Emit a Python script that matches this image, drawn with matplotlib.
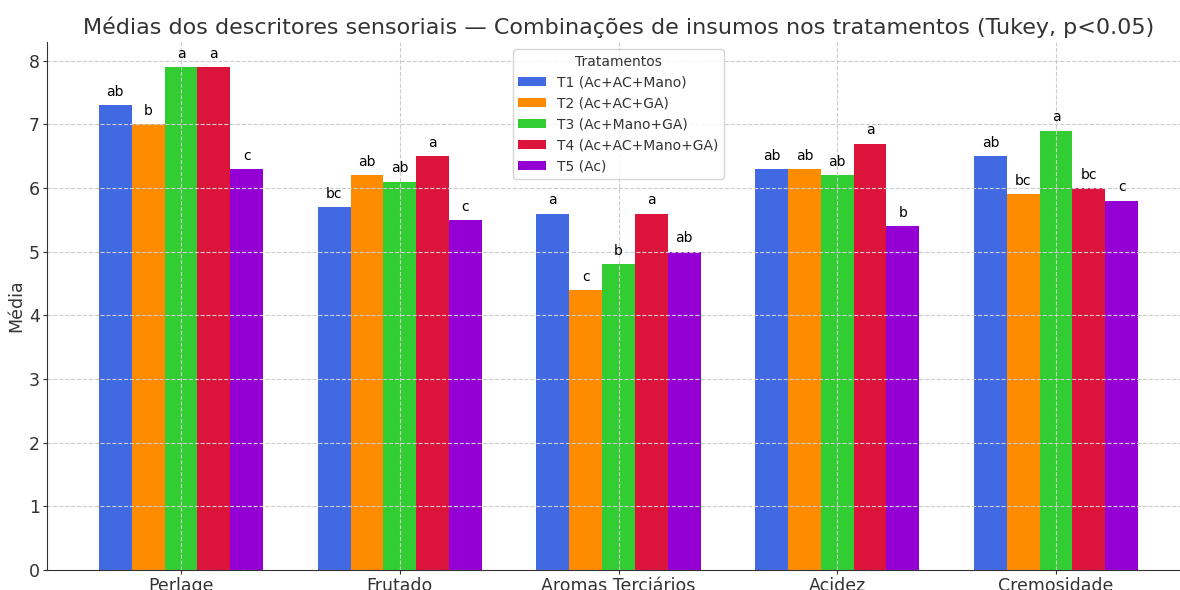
import matplotlib

matplotlib.use("Agg")
import matplotlib.pyplot as plt
import numpy as np

descritores = ["Perlage", "Frutado", "Aromas Terciários", "Acidez", "Cremosidade"]
tratamentos = [
    "T1 (Ac+AC+Mano)",
    "T2 (Ac+AC+GA)",
    "T3 (Ac+Mano+GA)",
    "T4 (Ac+AC+Mano+GA)",
    "T5 (Ac)",
]
medias = [
    [7.3, 5.7, 5.6, 6.3, 6.5],  # T1
    [7.0, 6.2, 4.4, 6.3, 5.9],  # T2
    [7.9, 6.1, 4.8, 6.2, 6.9],  # T3
    [7.9, 6.5, 5.6, 6.7, 6.0],  # T4
    [6.3, 5.5, 5.0, 5.4, 5.8],  # T5
]
letras = [
    ["ab", "bc", "a", "ab", "ab"],
    ["b", "ab", "c", "ab", "bc"],
    ["a", "ab", "b", "ab", "a"],
    ["a", "a", "a", "a", "bc"],
    ["c", "c", "ab", "b", "c"],
]
cores = ["royalblue", "darkorange", "limegreen", "crimson", "darkviolet"]

plt.rcParams["text.color"] = "#333333"
plt.rcParams["axes.labelcolor"] = "#333333"
plt.rcParams["xtick.color"] = "#333333"
plt.rcParams["ytick.color"] = "#333333"
plt.rcParams["axes.edgecolor"] = "#333333"

fig = plt.figure(figsize=(11.8, 5.9), dpi=100)
ax = fig.add_axes([47 / 1180, 20 / 590, 1143 / 1180, 528 / 590])

x = np.arange(len(descritores))
largura = 0.15
for i, (nome, vals, lets) in enumerate(zip(tratamentos, medias, letras)):
    pos = x + (i - 2) * largura
    ax.bar(pos, vals, largura, label=nome, color=cores[i])
    for xp, v, l in zip(pos, vals, lets):
        ax.text(xp, v + 0.1, l, ha="center", va="bottom", fontsize=10, color="black")

ax.set_xticks(x)
ax.set_xticklabels(descritores, fontsize=12.5)
ax.tick_params(axis="both", length=3, pad=2)
ax.tick_params(axis="y", labelsize=12.5)
ax.set_ylabel("Média", fontsize=12.5, labelpad=3)
ax.set_title(
    "Médias dos descritores sensoriais — Combinações de insumos nos tratamentos (Tukey, p<0.05)",
    fontsize=16,
)
ax.grid(True, linestyle="--", color="#cccccc", linewidth=0.8)
ax.spines["top"].set_visible(False)
ax.spines["right"].set_visible(False)
ax.legend(title="Tratamentos", loc="upper center", fontsize=10, title_fontsize=10)

fig.savefig("out.png", dpi=100)
